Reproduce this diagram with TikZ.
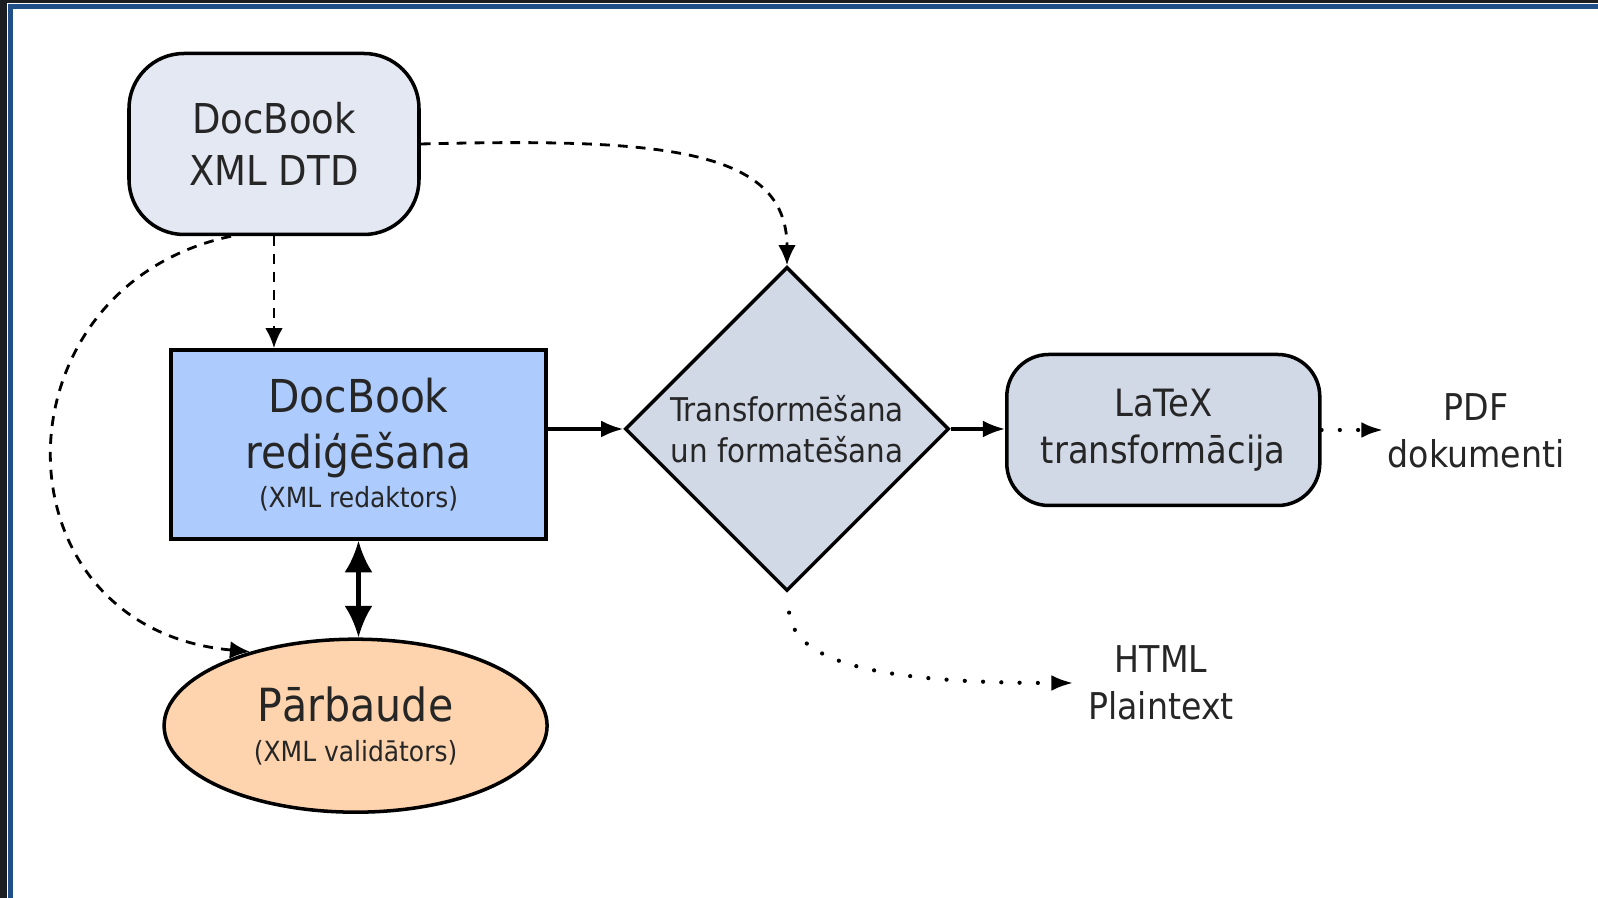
\documentclass[tikz,border=0pt]{standalone}
\usepackage{fontspec}
\setmainfont{DejaVu Sans Condensed}
\usetikzlibrary{arrows.meta,shapes.geometric}

\definecolor{rahmendunkel}{HTML}{1C1D20}
\definecolor{rahmenblau}{HTML}{1F4F86}
\definecolor{dtdfarbe}{HTML}{E4E8F2}
\definecolor{editfarbe}{HTML}{ADCBFC}
\definecolor{graublau}{HTML}{D1D8E6}
\definecolor{pfirsich}{HTML}{FDD4AD}

\begin{document}
\begin{tikzpicture}

    % --- Grundeinstellungen für Styles ---
    \tikzset{
        kasten/.style={draw, line width=1pt, align=center, text=black!85, inner sep=0pt},
        quelle/.style={kasten, fill=dtdfarbe, rounded corners=0.55cm, minimum width=2.9cm, minimum height=1.81cm, font=\fontsize{11.7}{15}\selectfont},
        editor/.style={kasten, fill=editfarbe, minimum width=3.75cm, minimum height=1.89cm, font=\fontsize{12.9}{16}\selectfont},
        raute/.style={kasten, diamond, aspect=1, fill=graublau, minimum width=3.24cm, minimum height=3.24cm, font=\fontsize{9.3}{11.6}\selectfont},
        wandler/.style={kasten, fill=graublau, rounded corners=0.42cm, minimum width=3.13cm, minimum height=1.51cm, font=\fontsize{10.7}{13.3}\selectfont},
        pruefer/.style={kasten, ellipse, fill=pfirsich, minimum width=3.83cm, minimum height=1.73cm, font=\fontsize{13}{16}\selectfont},
        ausgabe/.style={align=center, text=black!85, inner sep=1pt, font=\fontsize{10.5}{13.3}\selectfont},
        gestrichelt/.style={-{Latex[length=5.7pt, width=5pt]}, line width=0.8pt, dash pattern=on 2.8pt off 2.3pt},
        gepunktet/.style={-{Latex[length=6.3pt, width=4.5pt]}, line width=1.2pt, line cap=round, dash pattern=on 0pt off 5.2pt},
        fluss/.style={-{Latex[length=6.3pt, width=4.8pt]}, line width=0.9pt}
    }

    % --- 0. Rahmen ---
    \useasboundingbox (0,0) rectangle (15.98,8.98);
    \fill[white] (0,0) rectangle (15.98,8.98);
    \fill[rahmendunkel] (0,0) rectangle (0.075,8.98);
    \fill[rahmendunkel] (0,8.95) rectangle (15.98,8.98);
    \draw[rahmenblau, line width=0.05cm] (0.10,0) -- (0.10,8.91) -- (15.98,8.91);

    % --- 1. Knoten ---

    % DTD oben links
    \node[quelle] (dtd) at (2.74, 7.54) {DocBook\\XML DTD};

    % Redigieren (blau)
    \node[editor] (edit) at (3.585, 4.535) {DocBook\\rediģēšana\\[-5pt]{\fontsize{7.9}{9.5}\selectfont (XML redaktors)}};

    % Transformieren (Raute)
    \node[raute] (trans) at (7.87, 4.69) {Transformēšana\\un formatēšana};

    % LaTeX
    \node[wandler] (latex) at (11.633, 4.68) {LaTeX\\transformācija};

    % Pruefung (Ellipse)
    \node[pruefer] (pruef) at (3.556, 1.723) {Pārbaude\\[-4.5pt]{\fontsize{7.9}{9.5}\selectfont (XML validātors)}};

    % Ausgaben
    \node[ausgabe] (pdf) at (14.76, 4.67) {PDF\\dokumenti};
    \node[ausgabe, inner sep=4pt] (html) at (11.61, 2.15) {HTML\\Plaintext};

    % --- 2. Verbindungen ---
    \draw[gestrichelt] (dtd.south) -- (dtd.south |- edit.north);
    \draw[gestrichelt] (dtd.east) .. controls (6.6,7.6) and (7.87,7.5) .. (trans.north);
    \draw[gestrichelt] (dtd.245) .. controls (-0.1,6.1) and (-0.1,2.7) .. (pruef.145);

    \draw[fluss] (edit.east |- trans.west) -- (trans.west);
    \draw[fluss] (trans.east) -- (trans.east -| latex.west);
    \draw[{Latex[length=9pt, width=8pt]}-{Latex[length=9pt, width=8pt]}, line width=1.3pt] (edit.south) -- (edit.south |- pruef.north);

    \draw[gepunktet] (latex.east) -- (latex.east -| pdf.west);
    \draw[gepunktet, shorten <=0.2cm] (trans.south) .. controls (7.95,2.3) and (9.0,2.15) .. (html.west);

\end{tikzpicture}
\end{document}
